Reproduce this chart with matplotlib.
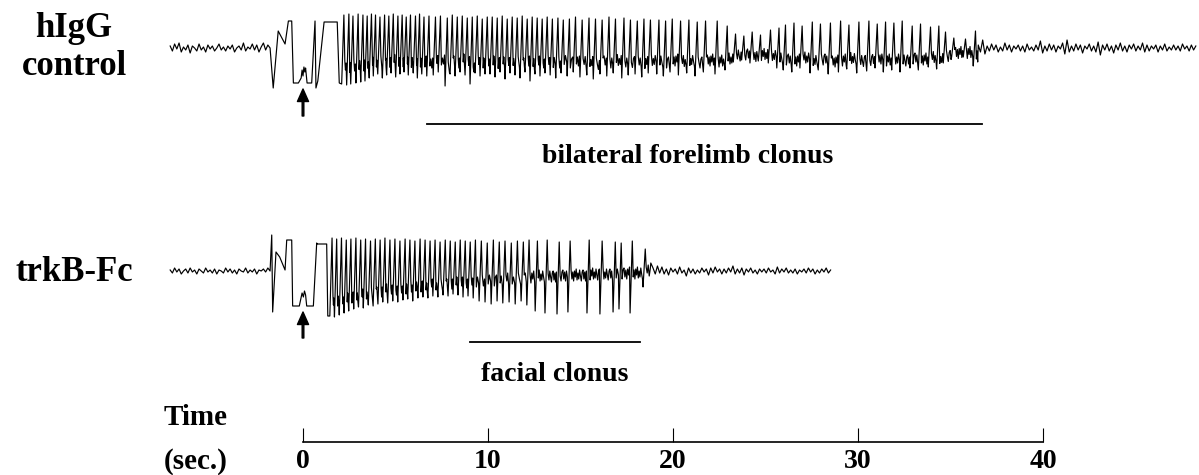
import numpy as np
import matplotlib
matplotlib.use("Agg")
import matplotlib.pyplot as plt

plt.rcParams['font.family'] = ['Liberation Serif', 'DejaVu Serif']
plt.rcParams['font.weight'] = 'bold'

# ---- data (time in s, amplitude in arbitrary units) ----
DT = 0.12  # baseline sample step

# hIgG control
top_pre = [2, -3, 4, -1, 5, -4, 1, -2, 3, -5, 2, 0, -3, 4, -2, 1, -4, 3, -1, 2, -3, 0,
           4, -2, 1, -3, 2, -1, 3, -4, 0, 2, -2, 5, -3, 1, -1, 4, -2, 3, -4, 1, 5, -2, 3]
top_on_t = [-1.78, -1.61, -1.34, -0.97, -0.79, -0.61, -0.52, -0.25, -0.10, -0.05, 0.00, 0.05,
            0.10, 0.14, 0.22, 0.47, 0.65, 0.70, 0.80, 1.14, 1.85, 1.96]
top_on_v = [0, -40, 17, 4, 27, 27, -35, -35, -30, -22, -28, -19, -24, -20, -35, -35, 27, -40,
            -33, 26, 26, -35]
top_spk_t = [2.09, 2.36, 2.58, 2.86, 3.12, 3.35, 3.58, 3.80, 4.04, 4.29, 4.52, 4.76, 5.01, 5.24,
             5.46, 5.69, 5.96, 6.18, 6.42, 6.69,
             7.04, 7.31, 7.68, 7.95, 8.22, 8.49, 8.76, 9.03, 9.30, 9.57, 9.84,
             10.11, 10.38, 10.65, 10.92, 11.19, 11.46, 11.73, 12.00, 12.27, 12.54, 12.81, 13.08,
             13.36, 13.66, 13.95, 14.28, 14.61, 14.97, 15.34, 15.69, 16.05, 16.42, 16.77, 17.23,
             17.58, 17.95, 18.31, 18.66,
             19.12, 19.48, 19.84, 20.29, 20.74, 21.19, 21.64, 22.27, 22.81, 23.26, 23.71, 24.16, 24.61,
             25.15, 25.61, 25.96, 26.42, 26.86, 27.41, 27.85, 28.39, 28.94, 29.39, 29.93,
             30.47, 30.92, 31.37, 31.82, 32.27, 32.81, 33.26, 33.80, 34.25, 34.61, 35.06, 35.69, 36.23]
top_spk_hi = [33, 34, 32, 34, 33, 32, 34, 33, 31, 33, 32, 34, 32, 33, 31, 33, 32, 34, 31, 32,
              31, 32, 30, 33, 31, 32, 30, 31, 32, 29, 31,
              31, 30, 32, 29, 31, 30, 32, 29, 31, 30, 29, 31,
              29, 30, 28, 29, 31, 28, 30, 29, 28, 31, 29, 30, 28, 27, 29, 28,
              28, 27, 29, 27, 28, 26, 27, 27, 22, 14, 12, 16, 13,
              18, 20, 23, 25, 22, 26, 24, 25, 27, 23, 26,
              27, 24, 26, 25, 27, 22, 24, 21, 22, 16, 10, 9, 17]
top_spk_lo = [-36, -37, -36, -35, -34, -33, -30, -28, -26, -30, -27, -25, -29, -26, -24, -27, -25,
              -30, -26, -28,
              -27, -24, -38, -26, -28, -24, -27, -36, -25, -28, -26,
              -26, -29, -24, -31, -25, -27, -30, -24, -33, -26, -28, -25,
              -27, -30, -25, -28, -24, -29, -27, -31, -26, -28, -25, -30, -27, -26, -29, -25,
              -26, -28, -24, -27, -25, -28, -24, -26, -22, -14, -12, -15, -13,
              -15, -20, -22, -24, -20, -25, -22, -26, -24, -21, -25,
              -23, -20, -24, -22, -24, -20, -22, -19, -21, -15, -9, -9, -18]
top_end = 36.5
top_post = [3, -4, 8, -6, 2, -3, 4, -2, 3, -4, 1, -3, 5, -2, 3, -4, 2, -1, 3, -3, 2, -4, 4, -2,
            1, -3, 3, -2, 7, -5, 2, -3, 4, -2, 3, -4, 2, -1, 5, -6, 8, -4, 2, -3, 4, -2, 3, -5,
            2, -1, 4, -3, 2, -4, 6, -7, 3, -2, 4, -3, 2, -5, 3, -2, 5, -3, 2, -4, 3, -1, 4, -3,
            2, -2, 5, -4, 3, -3, 2, -1, 3, -4, 2, -2, 4, -3, 1, -2, 3, -2, 2, -3, 4, -1, 2, -3,
            3, -2, 2]

# trkB-Fc
bot_pre = [1, -2, 3, -1, 2, -3, 0, 2, -2, 3, -1, 1, -3, 2, 0, -2, 3, -1, 1, -2, 2, -3, 1, 0,
           -2, 3, -1, 2, -2, 1, -3, 2, 0, -1, 3, -2, 1, -1, 2, -3, 1, 0, 2, -1, 3]
bot_on_t = [-1.78, -1.69, -1.64, -1.46, -1.26, -0.97, -0.88, -0.61, -0.56, -0.20, -0.12, -0.05,
            0.02, 0.08, 0.14, 0.20, 0.56, 0.74, 0.76, 1.28, 1.34]
bot_on_v = [0, 36, -41, 19, 14, 1, 31, 31, -35, -35, -28, -22, -26, -20, -24, -35, -35, 28, 27,
            27, -45]
bot_spk_t = [1.45, 1.70, 1.96, 2.22, 2.47, 2.74, 3.00, 3.26, 3.53, 3.79,
             4.05, 4.31, 4.58, 4.85, 5.12, 5.40, 5.66, 5.93, 6.21, 6.48,
             6.75, 7.02, 7.29, 7.57, 7.84, 8.11, 8.38, 8.65, 8.92, 9.20,
             9.52, 9.84, 10.17, 10.49, 10.80, 11.14, 11.47, 11.79, 12.10,
             12.55, 13.08, 13.73, 14.32, 15.35, 16.05, 16.76, 17.08, 17.68, 18.38]
bot_spk_hi = [33, 32, 33, 31, 32, 33, 31, 32, 30, 32, 31, 33, 31, 32, 30, 32, 31, 30, 32, 31,
              30, 31, 29, 31, 30, 29, 31, 30, 29, 31, 30, 28, 31, 29, 30, 28, 30, 29, 31,
              30, 31, 29, 30, 31, 30, 29, 28, 30, 22]
bot_spk_lo = [-45, -46, -44, -42, -40, -38, -36, -37, -34, -35,
              -33, -31, -32, -30, -31, -29, -28, -30, -27, -26,
              -27, -25, -26, -24, -25, -23, -24, -26, -25, -27,
              -30, -31, -33, -30, -32, -31, -33, -30, -34,
              -40, -42, -43, -41, -42, -43, -41, -38, -42, -16]
bot_spk_mid = [-30, -29, -28, -27, -26, -25, -24, -23, -22, -21,
               -20, -19, -19, -18, -18, -17, -16, -16, -15, -15,
               -14, -14, -13, -13, -12, -12, -11, -11, -10, -10,
               -10, -9, -9, -8, -8, -8, -7, -7, -6,
               -5, -5, -4, -4, -3, -3, -3, -2, -2, 0]
bot_end = 18.8
bot_post = [8, 3, -3, 5, -2, 4, -3, 2, -4, 3, -1, 2, -3, 4, -2, 1, -5, 3, -2, 2, -3, 1, -2, 3,
            -1, 2, -4, 3, -2, 4, -1, 2, -3, 2, -2, 3, -1, 5, -3, 2, -2, 3, -4, 2, -1, 3, -2, 1,
            -3, 2, -1, 2, -2, 3, -1, 1, -3, 4, -2, 2, -1, 3, -2, 1, -2, 2, -3, 1, -1, 2, -2, 3,
            -1, 2, -3, 1, -2, 2, -1, 3, -2, 1]

clonus_top = (6.7, 36.7)
clonus_bot = (9.0, 18.2)
scale_ticks = [0, 10, 20, 30, 40]
jit = [5, -4, 3, -6, 4, -2, 6, -5, 2, -4, 5, -1, -6, 3]

# ---- layout (pixels of a 1199x475 image) ----
W, H = 1199, 475
X0, PXS = 303, 18.5          # x pixel of t=0, pixels per second
ROW_TOP, ROW_BOT = 48, 271   # baseline rows of the two traces
RISE, FALL = 0.12, 0.05


def build(pre, on_t, on_v, sp_t, sp_hi, sp_lo, sp_mid, t_end, post):
    ts = list(on_t[0] - DT * np.arange(len(pre), 0, -1))
    vs = list(pre)
    ts += on_t
    vs += on_v
    for i, t in enumerate(sp_t):
        nxt = sp_t[i + 1] if i + 1 < len(sp_t) else t_end
        ts += [t, t + RISE]
        vs += [sp_lo[i], sp_hi[i]]
        start, stop = t + RISE + FALL, nxt - 0.03
        n = max(2, int((stop - start) / 0.045))
        for j in range(n + 1):
            ts.append(start + j * (stop - start) / n)
            vs.append(sp_mid[i] + jit[(3 * i + j) % len(jit)])
    ts += list(t_end + DT * np.arange(len(post)))
    vs += post
    return np.array(ts), np.array(vs)


fig = plt.figure(figsize=(W / 100, H / 100), dpi=100)
ax = fig.add_axes([0, 0, 1, 1])
ax.set_xlim(-X0 / PXS, (W - X0) / PXS)
ax.set_ylim(H, 0)
ax.axis('off')

top_mid = [0.5 * v for v in top_spk_lo]
t1, v1 = build(top_pre, top_on_t, top_on_v, top_spk_t, top_spk_hi, top_spk_lo, top_mid,
               top_end, top_post)
t2, v2 = build(bot_pre, bot_on_t, bot_on_v, bot_spk_t, bot_spk_hi, bot_spk_lo, bot_spk_mid,
               bot_end, bot_post)
ax.plot(t1, ROW_TOP - v1, color='black', lw=0.85)
ax.plot(t2, ROW_BOT - v2, color='black', lw=0.85)

# stimulus arrows
for tip, tail in [(89, 116), (312, 338)]:
    ax.annotate('', xy=(0, tip), xytext=(0, tail),
                arrowprops=dict(facecolor='black', edgecolor='black', width=1.2,
                                headwidth=8, headlength=9, shrink=0))

# clonus bars and labels
ax.plot(clonus_top, [124, 124], color='black', lw=1.3)
ax.plot(clonus_bot, [341.5, 341.5], color='black', lw=1.3)
ax.text((688 - X0) / PXS, 163, 'bilateral forelimb clonus', ha='center',
        va='baseline', fontsize=20)
ax.text((555 - X0) / PXS, 381, 'facial clonus', ha='center', va='baseline',
        fontsize=20)

# row labels
lx = (74 - X0) / PXS
ax.text(lx, 37, 'hIgG', ha='center', va='baseline', fontsize=25)
ax.text(lx, 75, 'control', ha='center', va='baseline', fontsize=25)
ax.text(lx, 281, 'trkB-Fc', ha='center', va='baseline', fontsize=25)
ax.text((196 - X0) / PXS, 425, 'Time', ha='center', va='baseline', fontsize=21)
ax.text((196 - X0) / PXS, 469, '(sec.)', ha='center', va='baseline', fontsize=21)

# time scale
sx = fig.add_axes([X0 / W, (H - 442) / H, (40 * PXS) / W, 0.02])
sx.set_xlim(0, 40)
for s in ['top', 'left', 'right']:
    sx.spines[s].set_visible(False)
sx.spines['bottom'].set_linewidth(1.2)
sx.patch.set_visible(False)
sx.set_yticks([])
sx.set_xticks(scale_ticks)
sx.set_xticklabels([str(v) for v in scale_ticks])
sx.tick_params(axis='x', direction='in', length=10, width=0.8, pad=5, labelsize=20)

fig.savefig('out.png', dpi=100)
